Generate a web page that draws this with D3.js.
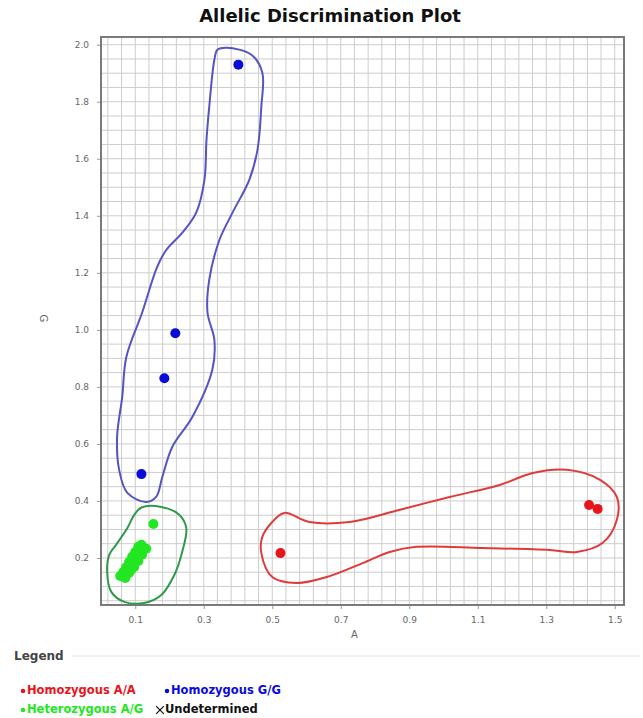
<!DOCTYPE html>
<html>
<head>
<meta charset="utf-8">
<script src="https://cdn.jsdelivr.net/npm/d3@7"></script>
<style>
  body { margin: 0; background: #fff; }
  svg { display: block; font-family: "DejaVu Sans", Verdana, sans-serif; }
</style>
</head>
<body>
<div id="chart"></div>
<script>
// tick labels
var xTicks = [0.1, 0.3, 0.5, 0.7, 0.9, 1.1, 1.3, 1.5]
var yTicks = [0.2, 0.4, 0.6, 0.8, 1.0, 1.2, 1.4, 1.6, 1.8, 2.0]

// calls, [A, G]
var homozygousAA = [[0.524, 0.217], [1.425, 0.386], [1.450, 0.372]]
var homozygousGG = [[0.401, 1.930], [0.217, 0.988], [0.185, 0.830], [0.118, 0.494]]
var heterozygousAG = [
  [0.153, 0.319],
  [0.056, 0.137], [0.065, 0.151], [0.074, 0.168], [0.082, 0.186], [0.091, 0.204],
  [0.100, 0.221], [0.109, 0.239], [0.118, 0.246], [0.132, 0.232], [0.120, 0.211],
  [0.109, 0.189], [0.097, 0.168], [0.082, 0.147], [0.071, 0.130], [0.088, 0.158]
]

// hand drawn cluster outlines, [A, G]
var outlineGG = [
  [0.340, 1.982], [0.367, 1.989], [0.439, 1.965], [0.471, 1.902], [0.468, 1.782],
  [0.457, 1.632], [0.433, 1.526], [0.384, 1.411], [0.346, 1.316], [0.316, 1.175],
  [0.311, 1.060], [0.331, 0.965], [0.325, 0.860], [0.267, 0.695], [0.208, 0.589],
  [0.179, 0.484], [0.161, 0.414], [0.132, 0.396], [0.077, 0.428], [0.053, 0.509],
  [0.047, 0.625], [0.062, 0.765], [0.074, 0.905], [0.120, 1.060], [0.164, 1.221],
  [0.191, 1.281], [0.237, 1.340], [0.278, 1.411], [0.302, 1.526], [0.308, 1.667],
  [0.316, 1.782], [0.331, 1.947]
]
var outlineAG = [
  [0.118, 0.377], [0.176, 0.379], [0.229, 0.351], [0.249, 0.305], [0.237, 0.221],
  [0.214, 0.140], [0.176, 0.070], [0.126, 0.042], [0.068, 0.046], [0.030, 0.081],
  [0.018, 0.151], [0.024, 0.211], [0.044, 0.246], [0.077, 0.305], [0.097, 0.351]
]
var outlineAA = [
  [0.535, 0.358], [0.608, 0.326], [0.726, 0.326], [0.870, 0.368], [1.018, 0.414],
  [1.164, 0.456], [1.261, 0.498], [1.360, 0.509], [1.457, 0.474], [1.506, 0.414],
  [1.506, 0.333], [1.465, 0.253], [1.389, 0.221], [1.310, 0.228], [1.114, 0.235],
  [0.921, 0.239], [0.843, 0.221], [0.764, 0.182], [0.659, 0.133], [0.571, 0.112],
  [0.500, 0.133], [0.468, 0.218], [0.471, 0.274], [0.500, 0.326]
]

var legendNames = ["Homozygous A/A", "Homozygous G/G", "Heterozygous A/G", "Undetermined"]

var width = 643,
    height = 718
var margin = { top: 37, right: 19, bottom: 113, left: 101 }
var plotW = width - margin.left - margin.right
var plotH = height - margin.top - margin.bottom

var red = "#e8141c", blue = "#0b0bd9", green = "#22e622"

var svg = d3.select("#chart").append("svg")
    .attr("width", width)
    .attr("height", height)
    .style("background", "#fff")

var x = d3.scaleLinear().domain([0, 1.527]).range([0, plotW])
var y = d3.scaleLinear().domain([0.035, 2.027]).range([plotH, 0])

svg.append("text")
    .attr("x", 330)
    .attr("y", 22)
    .attr("text-anchor", "middle")
    .style("font-size", "18px")
    .style("font-weight", "bold")
    .style("fill", "#111")
    .text("Allelic Discrimination Plot")

var g = svg.append("g")
    .attr("transform", "translate(" + margin.left + "," + margin.top + ")")

// grid
g.append("g").selectAll("line")
    .data(d3.range(0.02, 1.527, 0.04))
    .enter().append("line")
    .attr("x1", function(d){ return x(d) })
    .attr("x2", function(d){ return x(d) })
    .attr("y1", 0).attr("y2", plotH)
    .style("stroke", "#cdcdcd")
    .style("stroke-width", 1)
g.append("g").selectAll("line")
    .data(d3.range(0.05, 2.027, 0.05))
    .enter().append("line")
    .attr("y1", function(d){ return y(d) })
    .attr("y2", function(d){ return y(d) })
    .attr("x1", 0).attr("x2", plotW)
    .style("stroke", "#cdcdcd")
    .style("stroke-width", 1)

// axes
var xAxis = d3.axisBottom(x).tickValues(xTicks).tickSize(4).tickPadding(8)
    .tickFormat(d3.format(".1f"))
var yAxis = d3.axisLeft(y).tickValues(yTicks).tickSize(4).tickPadding(8)
    .tickFormat(d3.format(".1f"))

var xg = g.append("g")
    .attr("transform", "translate(0," + plotH + ")")
    .call(xAxis)
var yg = g.append("g").call(yAxis)
;[xg, yg].forEach(function(a){
    a.select(".domain").remove()
    a.selectAll(".tick line").style("stroke", "#999")
    a.selectAll(".tick text")
        .style("fill", "#666")
        .style("font-size", "9px")
        .style("font-family", "DejaVu Sans, sans-serif")
})

// frame
g.append("rect")
    .attr("width", plotW).attr("height", plotH)
    .style("fill", "none")
    .style("stroke", "#7a7a7a")
    .style("stroke-width", 2)

svg.append("text")
    .attr("x", margin.left + x(0.74))
    .attr("y", 638)
    .attr("text-anchor", "middle")
    .style("font-size", "10px")
    .style("fill", "#666")
    .text("A")
svg.append("text")
    .attr("transform", "translate(40," + (margin.top + y(1.04)) + ") rotate(90)")
    .attr("text-anchor", "middle")
    .style("font-size", "10px")
    .style("fill", "#666")
    .text("G")

// outlines
var outline = d3.line()
    .x(function(d){ return x(d[0]) })
    .y(function(d){ return y(d[1]) })
    .curve(d3.curveCatmullRomClosed.alpha(0.5))

var outlines = [
    { pts: outlineGG, color: "#5454c4" },
    { pts: outlineAG, color: "#2f9a4a" },
    { pts: outlineAA, color: "#e03a3a" }
]
g.selectAll(".outline")
    .data(outlines)
    .enter().append("path")
    .attr("class", "outline")
    .attr("d", function(d){ return outline(d.pts) })
    .style("fill", "none")
    .style("stroke", function(d){ return d.color })
    .style("stroke-width", 2)

// points
function dots(data, color) {
    g.append("g").selectAll("circle")
        .data(data)
        .enter().append("circle")
        .attr("cx", function(d){ return x(d[0]) })
        .attr("cy", function(d){ return y(d[1]) })
        .attr("r", 5)
        .style("fill", color)
}
dots(heterozygousAG, green)
dots(homozygousGG, blue)
dots(homozygousAA, red)

// legend
svg.append("text")
    .attr("x", 14).attr("y", 660)
    .style("font-size", "12px")
    .style("font-weight", "bold")
    .style("fill", "#444")
    .text("Legend")
svg.append("line")
    .attr("x1", 72).attr("x2", 640)
    .attr("y1", 656).attr("y2", 656)
    .style("stroke", "#e2e2e2")

var legendItems = [
    { name: legendNames[0], color: red, x: 23, y: 694 },
    { name: legendNames[1], color: blue, x: 167, y: 694 },
    { name: legendNames[2], color: green, x: 23, y: 713 },
    { name: legendNames[3], color: "#111", x: 160, y: 713, cross: true }
]
var li = svg.selectAll(".legend")
    .data(legendItems)
    .enter().append("g")
    .attr("class", "legend")
    .attr("transform", function(d){ return "translate(" + d.x + "," + d.y + ")" })
li.append("path")
    .attr("transform", "translate(0,-3)")
    .attr("d", function(d){
        return d.cross ? d3.symbol(d3.symbolX, 40)() : d3.symbol(d3.symbolCircle, 16)()
    })
    .style("fill", function(d){ return d.cross ? "none" : d.color })
    .style("stroke", function(d){ return d.cross ? d.color : "none" })
    .style("stroke-width", 1.2)
li.append("text")
    .attr("x", function(d){ return d.cross ? 5 : 4 })
    .style("font-size", "11.5px")
    .style("font-weight", "bold")
    .style("fill", function(d){ return d.color })
    .text(function(d){ return d.name })
</script>
</body>
</html>
